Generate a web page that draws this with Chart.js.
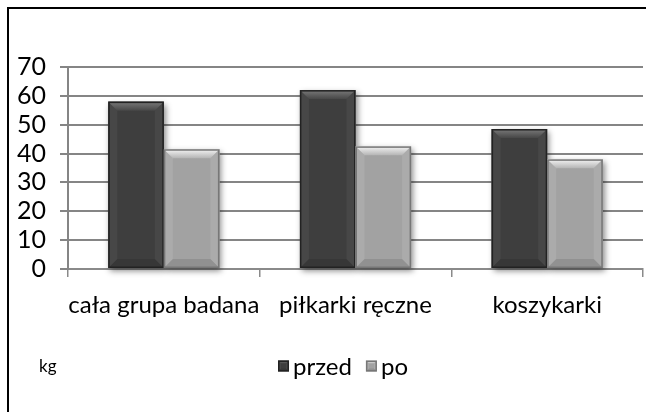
<!DOCTYPE html>
<html><head><meta charset="utf-8">
<script src="https://cdn.jsdelivr.net/npm/chart.js@4.4.0/dist/chart.umd.min.js"></script>
<style>html,body{margin:0;padding:0;background:#fff}#wrap{width:646px;height:412px;position:relative}</style>
</head><body><div id="wrap"><canvas id="c" width="646" height="412"></canvas></div>
<script>
const categories = ['cała grupa badana', 'piłkarki ręczne', 'koszykarki'];
const przedValues = [58, 62, 48.5];
const poValues = [41.5, 42.5, 38];
const seriesNames = ['przed', 'po'];
const yMin = 0, yMax = 70, yStep = 10;
const unitLabel = 'kg';

const FONT = 'Lato, "Open Sans", sans-serif';
const styles = [
  {fill: '#3e3e3e', border: '#222222', bevelTop: ['#7a7a7a', '#474747'], side: 'rgba(255,255,255,0.05)'},
  {fill: '#a2a2a2', border: '#777777', bevelTop: ['#f4f4f4', '#b4b4b4'], side: 'rgba(255,255,255,0.10)'}
];

function drawBevelBox(ctx, l, t, r, b, st, bv) {
  ctx.save();
  ctx.fillStyle = st.fill;
  ctx.fillRect(l, t, r - l, b - t);
  ctx.fillStyle = st.side;
  ctx.beginPath(); ctx.moveTo(l, t); ctx.lineTo(l + bv, t + bv); ctx.lineTo(l + bv, b - bv); ctx.lineTo(l, b); ctx.closePath(); ctx.fill();
  ctx.beginPath(); ctx.moveTo(r, t); ctx.lineTo(r - bv, t + bv); ctx.lineTo(r - bv, b - bv); ctx.lineTo(r, b); ctx.closePath(); ctx.fill();
  ctx.fillStyle = 'rgba(0,0,0,0.10)';
  ctx.beginPath(); ctx.moveTo(l, b); ctx.lineTo(l + bv, b - bv); ctx.lineTo(r - bv, b - bv); ctx.lineTo(r, b); ctx.closePath(); ctx.fill();
  const g = ctx.createLinearGradient(0, t, 0, t + bv);
  g.addColorStop(0, st.bevelTop[0]); g.addColorStop(1, st.bevelTop[1]);
  ctx.fillStyle = g;
  ctx.beginPath(); ctx.moveTo(l, t); ctx.lineTo(r, t); ctx.lineTo(r - bv, t + bv); ctx.lineTo(l + bv, t + bv); ctx.closePath(); ctx.fill();
  ctx.strokeStyle = st.border; ctx.lineWidth = 1.5;
  ctx.strokeRect(l + 0.75, t + 0.75, r - l - 1.5, b - t - 1.5);
  ctx.restore();
}

const barBevel = {
  id: 'barBevel',
  beforeDatasetsDraw(chart) {
    const ctx = chart.ctx;
    ctx.save();
    chart.data.datasets.forEach((ds, i) => {
      chart.getDatasetMeta(i).data.forEach(el => {
        const l = el.x - el.width / 2, r = el.x + el.width / 2;
        ctx.shadowColor = 'rgba(0,0,0,0.45)'; ctx.shadowBlur = 6; ctx.shadowOffsetX = 2; ctx.shadowOffsetY = 3;
        ctx.fillStyle = '#888';
        ctx.fillRect(l, el.y, r - l, el.base - el.y);
      });
    });
    ctx.restore();
  },
  afterDatasetsDraw(chart) {
    const ctx = chart.ctx;
    chart.data.datasets.forEach((ds, i) => {
      chart.getDatasetMeta(i).data.forEach(el => {
        const l = el.x - el.width / 2, r = el.x + el.width / 2;
        drawBevelBox(ctx, l, el.y, r, el.base, styles[i], 9);
      });
    });
  }
};

const frameAndLegend = {
  id: 'frameAndLegend',
  afterDraw(chart) {
    const ctx = chart.ctx;
    ctx.save();
    ctx.strokeStyle = '#000'; ctx.lineWidth = 2;
    ctx.beginPath(); ctx.moveTo(8, 412); ctx.lineTo(8, 8); ctx.lineTo(646, 8); ctx.stroke();
    ctx.fillStyle = '#000'; ctx.textBaseline = 'middle'; ctx.textAlign = 'left';
    ctx.font = '17px ' + FONT;
    ctx.fillText(unitLabel, 39, 367);
    ctx.font = '24px ' + FONT;
    const box = 11, gap = 4, itemGap = 14;
    const widths = seriesNames.map(n => ctx.measureText(n).width);
    const total = widths.reduce((a, w) => a + box + gap + w, 0) + itemGap * (seriesNames.length - 1);
    let x = 343 - total / 2;
    const cy = 366;
    seriesNames.forEach((n, i) => {
      drawBevelBox(ctx, x, cy - box / 2, x + box, cy + box / 2, styles[i], 3);
      ctx.fillStyle = '#000';
      ctx.fillText(n, x + box + gap, cy + 1);
      x += box + gap + widths[i] + itemGap;
    });
    ctx.restore();
  }
};

new Chart(document.getElementById('c'), {
  type: 'bar',
  data: {
    labels: categories,
    datasets: [
      {label: seriesNames[0], data: przedValues, backgroundColor: 'rgba(0,0,0,0)', borderWidth: 0},
      {label: seriesNames[1], data: poValues, backgroundColor: 'rgba(0,0,0,0)', borderWidth: 0}
    ]
  },
  options: {
    responsive: false,
    animation: false,
    events: [],
    categoryPercentage: 0.58,
    barPercentage: 1.0,
    layout: {padding: {left: 0, right: 3, top: 67, bottom: 0}},
    plugins: {legend: {display: false}, tooltip: {enabled: false}},
    scales: {
      x: {
        afterFit(s) { s.height = 143; },
        grid: {offset: true, drawOnChartArea: false, drawTicks: true, tickLength: 8, color: '#8a8a8a', lineWidth: 1.5},
        border: {display: true, color: '#8a8a8a', width: 2},
        ticks: {font: {family: FONT, size: 24}, color: '#000', padding: 14, maxRotation: 0, autoSkip: false}
      },
      y: {
        min: yMin, max: yMax,
        afterFit(s) { s.width = 68; },
        grid: {color: '#858585', lineWidth: 2, tickLength: 8},
        border: {display: true, color: '#858585', width: 2},
        ticks: {stepSize: yStep, autoSkip: false, font: {family: FONT, size: 25}, color: '#000', padding: 14}
      }
    }
  },
  plugins: [barBevel, frameAndLegend]
});
</script>
</body></html>
